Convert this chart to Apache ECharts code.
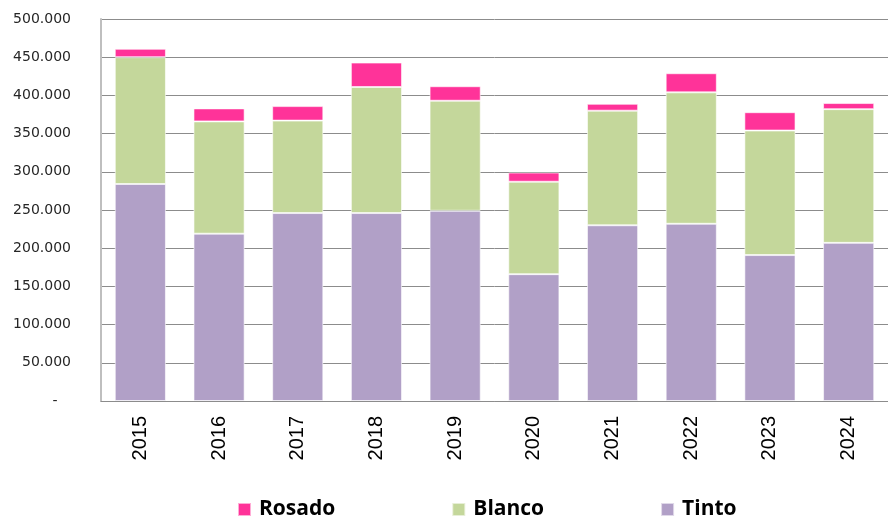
<!DOCTYPE html>
<html lang="es">
  <head>
    <meta charset="UTF-8" />
    <title>Rosado / Blanco / Tinto</title>
    <style>
      * {
        margin: 0;
        padding: 0;
        box-sizing: border-box;
      }
      #main {
        width: 888px;
        height: 516px;
        background-color: #fff;
      }
    </style>
  </head>
  <body>
    <div id="main"></div>
    <script src="https://cdn.jsdelivr.net/npm/echarts@6/dist/echarts.min.js"></script>
    <script>
      // años y volúmenes por tipo de vino
      const years = ["2015", "2016", "2017", "2018", "2019", "2020", "2021", "2022", "2023", "2024"];
      const tinto = [284000, 219000, 246000, 246000, 249000, 166000, 230000, 232000, 191000, 207000];
      const blanco = [166000, 147000, 121000, 165000, 144000, 121000, 150000, 172000, 163000, 175000];
      const rosado = [11000, 17000, 19000, 32000, 19000, 12000, 9000, 25000, 24000, 8000];

      const myChart = echarts.init(document.getElementById("main"));

      // formato tipo Excel: 450.000 y "-" para el cero
      function fmt(v) {
        if (v === 0) return "-   ";
        return String(v).replace(/\B(?=(\d{3})+(?!\d))/g, ".");
      }

      const barStyle = (color) => ({
        color: color,
        borderColor: "rgba(255,255,255,0.6)",
        borderWidth: 1,
      });

      const option = {
        animation: false,
        grid: {
          left: 101,
          right: 0,
          top: 19,
          bottom: 115,
          outerBoundsMode: "none",
        },
        legend: {
          data: ["Rosado", "Blanco", "Tinto"],
          left: 232,
          top: 494,
          itemWidth: 13,
          itemHeight: 13,
          itemGap: 116,
          icon: "rect",
          textStyle: {
            fontFamily: "Open Sans",
            fontWeight: "bold",
            fontSize: 21,
            color: "#000",
            padding: [0, 0, 0, 3],
          },
        },
        xAxis: {
          type: "category",
          data: years,
          axisLine: { lineStyle: { color: "#8c8c8c", width: 1 } },
          axisTick: { show: false },
          axisLabel: {
            rotate: 90,
            margin: 15,
            fontFamily: "Liberation Sans",
            fontSize: 20,
            color: "#000",
          },
        },
        yAxis: {
          type: "value",
          min: 0,
          max: 500000,
          interval: 50000,
          axisLine: { show: true, lineStyle: { color: "#bfbfbf", width: 2 } },
          axisTick: { show: false },
          splitLine: { lineStyle: { color: "#8c8c8c", width: 1 } },
          axisLabel: {
            margin: 30,
            fontFamily: "DejaVu Sans",
            fontSize: 14,
            color: "#262626",
            formatter: fmt,
          },
        },
        series: [
          {
            name: "Tinto",
            type: "bar",
            stack: "total",
            barWidth: "65%",
            itemStyle: barStyle("#b1a0c7"),
            data: tinto,
          },
          {
            name: "Blanco",
            type: "bar",
            stack: "total",
            itemStyle: barStyle("#c4d79b"),
            data: blanco,
          },
          {
            name: "Rosado",
            type: "bar",
            stack: "total",
            itemStyle: barStyle("#ff3399"),
            data: rosado,
          },
        ],
      };
      myChart.setOption(option);
    </script>
  </body>
</html>
